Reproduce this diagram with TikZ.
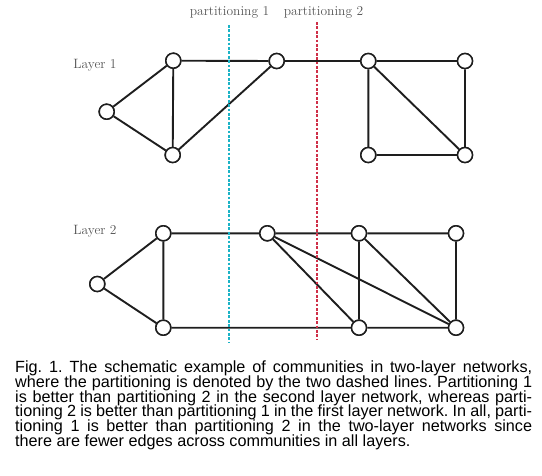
\documentclass[tikz,border=0pt]{standalone}
\usepackage{fontspec}
\newfontfamily\capfont{Liberation Sans}
\definecolor{lblgray}{HTML}{555555}
\definecolor{edgec}{HTML}{1E1E1E}
\definecolor{pcyan}{HTML}{1BB3C6}
\definecolor{pred}{HTML}{CF2F48}
\tikzset{
  vtx/.style={circle, draw=edgec, fill=white, line width=1.5pt, minimum size=15pt, inner sep=0pt},
  edg/.style={draw=edgec, line width=1.9pt},
  lbl/.style={font=\fontsize{13.5}{15}\selectfont, text=lblgray, inner sep=0pt, anchor=base},
  part/.style={line width=2pt, dash pattern=on 2.7pt off 1.7pt},
  captxt/.style={anchor=north west, inner sep=0pt, text width=517pt, align=justify},
}
\begin{document}
\begin{tikzpicture}[x=1pt,y=-1pt]
\useasboundingbox (0,0) rectangle (542,475);
% labels
\node[lbl] (p1) at (229.5,15) {partitioning 1};
\node[lbl] (p2) at (323.5,15) {partitioning 2};
\node[lbl] (l1) at (95,68) {Layer 1};
\node[lbl] (l2) at (95,234) {Layer 2};
% layer 1
\node[vtx] (a1) at (106.7,111.7) {};
\node[vtx] (b1) at (173.3,60.7) {};
\node[vtx] (c1) at (172.7,155) {};
\node[vtx] (d1) at (276.7,61) {};
\node[vtx] (e1) at (368.3,61) {};
\node[vtx] (f1) at (465,61) {};
\node[vtx] (g1) at (368.3,155) {};
\node[vtx] (h1) at (465,155) {};
% layer 2
\node[vtx] (a2) at (97.3,284) {};
\node[vtx] (b2) at (163.3,233.3) {};
\node[vtx] (c2) at (163.3,327.7) {};
\node[vtx] (d2) at (267.3,233.3) {};
\node[vtx] (e2) at (359,233.3) {};
\node[vtx] (f2) at (456,233.3) {};
\node[vtx] (g2) at (359,327.7) {};
\node[vtx] (h2) at (456,327.7) {};
% partition lines
\coordinate (cy1) at (229.3,25);
\coordinate (cy2) at (229.3,342);
\coordinate (rd1) at (316.5,22);
\coordinate (rd2) at (316.5,340);
% edges layer 1
\draw[edg] (a1)--(b1) (a1)--(c1) (b1)--(c1) (b1)--(d1) (c1)--(d1) (d1)--(e1)
  (e1)--(f1) (e1)--(g1) (e1)--(h1) (f1)--(h1) (g1)--(h1);
% edges layer 2
\draw[edg] (a2)--(b2) (a2)--(c2) (b2)--(c2) (b2)--(d2) (c2)--(g2) (d2)--(e2)
  (e2)--(f2) (d2)--(g2) (d2)--(h2) (e2)--(g2) (e2)--(h2) (f2)--(h2) (g2)--(h2);
\draw[part, pcyan] (cy1)--(cy2);
\draw[part, pred] (rd1)--(rd2);
% redraw nodes on top
\foreach \n in {a1,b1,c1,d1,e1,f1,g1,h1,a2,b2,c2,d2,e2,f2,g2,h2}{
  \node[vtx] at (\n) {};
}
% caption
\node[captxt] (cap) at (15,360.5)
  {\capfont\fontsize{16.2pt}{14.8pt}\selectfont\lineskiplimit=-20pt\frenchspacing\relax
  Fig. 1. The schematic example of communities in two-layer networks,\linebreak
  where the partitioning is denoted by the two dashed lines. Partitioning 1\linebreak
  is better than partitioning 2 in the second layer network, whereas parti-\linebreak
  tioning 2 is better than partitioning 1 in the first layer network. In all, parti-\linebreak
  tioning 1 is better than partitioning 2 in the two-layer networks since\linebreak
  there are fewer edges across communities in all layers.\par};
\end{tikzpicture}
\end{document}
